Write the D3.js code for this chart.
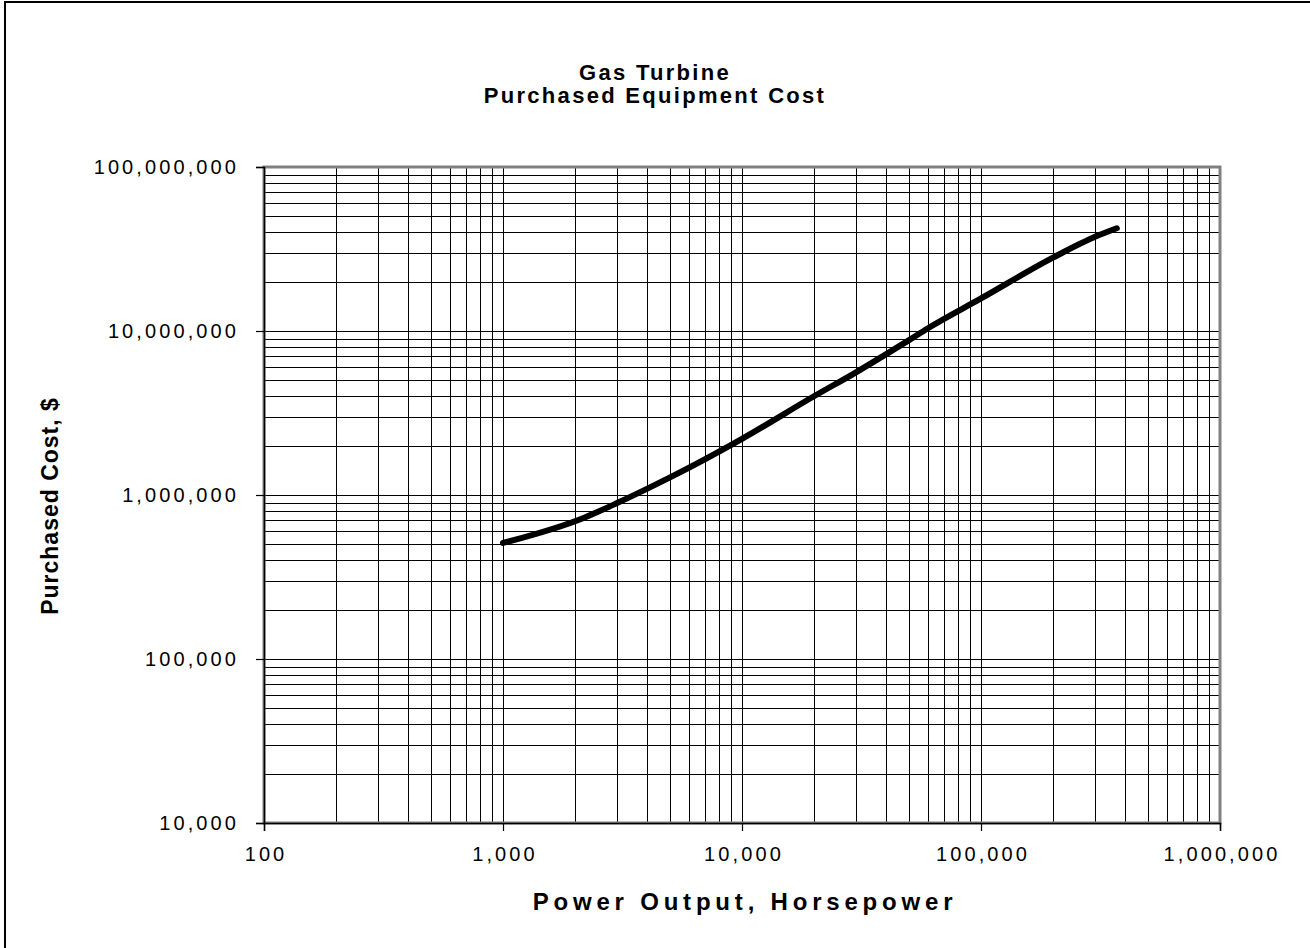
<!DOCTYPE html>
<html>
<head>
<meta charset="utf-8">
<script src="https://cdn.jsdelivr.net/npm/d3@7"></script>
<style>
  html, body { margin: 0; padding: 0; background: #fff; }
  svg { display: block; }
  text { font-family: "Liberation Sans", Arial, sans-serif; fill: #000; }
</style>
</head>
<body>
<svg id="chart" width="1310" height="948"></svg>
<script>
// ---- Data ----
const horsepower = [1000, 2200, 3000, 4000, 5000, 10000, 20000, 30000, 40000, 50000, 60000, 100000, 200000, 300000, 370000];
const purchasedCost = [510000, 730000, 893000, 1090000, 1280000, 2200000, 4000000, 5600000, 7200000, 8800000, 10400000, 15800000, 28000000, 37500000, 42300000];
const xTickValues = [100, 1000, 10000, 100000, 1000000];
const yTickValues = [10000, 100000, 1000000, 10000000, 100000000];
const titleLines = ["Gas Turbine", "Purchased Equipment Cost"];
const xTitle = "Power Output, Horsepower";
const yTitle = "Purchased Cost,  $";

// ---- Layout ----
const svg = d3.select("#chart");
const W = 1310, H = 948;
const plot = { left: 264, right: 1220, top: 167, bottom: 823 };

const x = d3.scaleLog().domain([100, 1000000]).range([plot.left, plot.right]);
const y = d3.scaleLog().domain([10000, 100000000]).range([plot.bottom, plot.top]);

// outer border
svg.append("rect").attr("x", 5).attr("y", 2).attr("width", W).attr("height", H + 10)
  .attr("fill", "#fff").attr("stroke", "#000").attr("stroke-width", 2);

// minor+major gridlines
function allTicks(domain) {
  const out = [];
  for (let e = Math.log10(domain[0]); e < Math.log10(domain[1]); e++) {
    for (let m = 1; m <= 9; m++) out.push(m * Math.pow(10, e));
  }
  out.push(domain[1]);
  return out;
}
const xGrid = allTicks(x.domain());
const yGrid = allTicks(y.domain());

const grid = svg.append("g");
grid.selectAll("line.vx").data(xGrid).enter().append("line")
  .attr("x1", d => Math.round(x(d)) + 0.5).attr("x2", d => Math.round(x(d)) + 0.5)
  .attr("y1", plot.top).attr("y2", plot.bottom)
  .attr("stroke", "#000").attr("stroke-width", 1);
grid.selectAll("line.hy").data(yGrid).enter().append("line")
  .attr("y1", d => Math.round(y(d)) + 0.5).attr("y2", d => Math.round(y(d)) + 0.5)
  .attr("x1", plot.left).attr("x2", plot.right)
  .attr("stroke", "#000").attr("stroke-width", 1);

// plot border (gray)
svg.append("rect").attr("x", plot.left).attr("y", plot.top)
  .attr("width", plot.right - plot.left).attr("height", plot.bottom - plot.top)
  .attr("fill", "none").attr("stroke", "#808080").attr("stroke-width", 3);

// axes
const fmt = d3.format(",");
const yAxis = d3.axisLeft(y).tickValues(yTickValues).tickFormat(fmt).tickSize(8).tickPadding(17);
const xAxis = d3.axisBottom(x).tickValues(xTickValues).tickFormat(fmt).tickSize(8).tickPadding(16);

const gy = svg.append("g").attr("transform", `translate(${plot.left},0)`).call(yAxis);
const gx = svg.append("g").attr("transform", `translate(0,${plot.bottom})`).call(xAxis);
[gy, gx].forEach(g => {
  g.select(".domain").attr("stroke", "#000").attr("stroke-width", 1.5);
  g.selectAll(".tick line").attr("stroke", "#000").attr("stroke-width", 1.2);
  g.selectAll(".tick text").attr("font-size", 20).attr("fill", "#000")
    .attr("font-family", "'Liberation Sans', Arial, sans-serif")
    .style("letter-spacing", "3.1px");
});
gx.selectAll(".tick text").attr("dx", 1.5);

// curve
const pts = horsepower.map((h, i) => [h, purchasedCost[i]]);
const line = d3.line().x(d => x(d[0])).y(d => y(d[1])).curve(d3.curveMonotoneX);
svg.append("path").datum(pts).attr("d", line)
  .attr("fill", "none").attr("stroke", "#000").attr("stroke-width", 6)
  .attr("stroke-linecap", "round").attr("stroke-linejoin", "round");

// titles
svg.selectAll("text.title").data(titleLines).enter().append("text")
  .attr("class", "title")
  .attr("x", 655).attr("y", (d, i) => 80 + i * 23)
  .attr("text-anchor", "middle").attr("font-size", 22).attr("font-weight", "bold")
  .style("letter-spacing", "2.3px")
  .text(d => d);

svg.append("text").attr("x", 745).attr("y", 910)
  .attr("text-anchor", "middle").attr("font-size", 24).attr("font-weight", "bold")
  .style("letter-spacing", "4.8px")
  .text(xTitle);

svg.append("text")
  .attr("transform", "translate(58,506) rotate(-90)")
  .attr("text-anchor", "middle").attr("font-size", 23).attr("font-weight", "bold")
  .style("letter-spacing", "1px")
  .text(yTitle);
</script>
</body>
</html>
